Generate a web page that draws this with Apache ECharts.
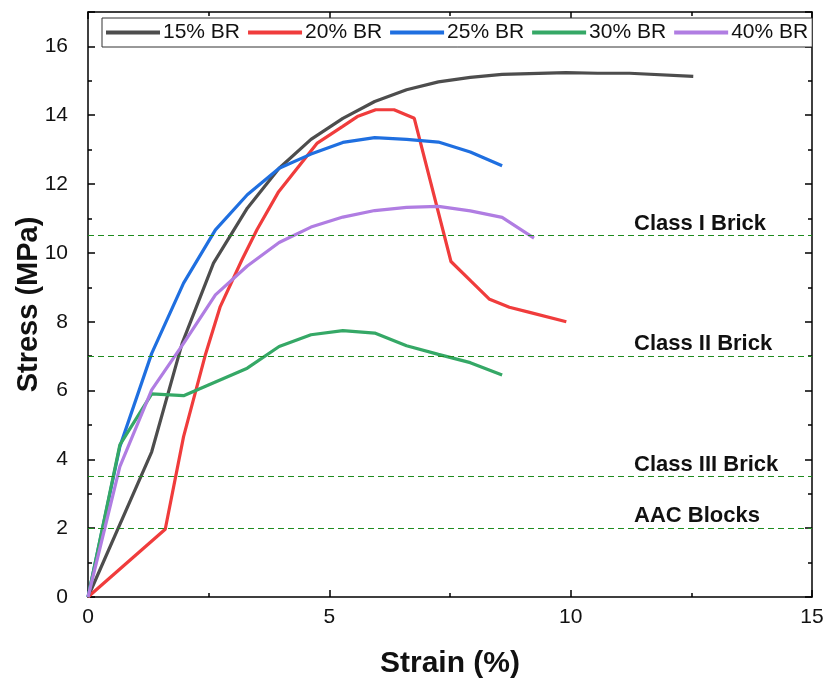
<!DOCTYPE html>
<html>
<head>
<meta charset="utf-8">
<script src="https://cdn.jsdelivr.net/npm/echarts@6/dist/echarts.min.js"></script>
<style>
  html, body { margin: 0; padding: 0; background: #fff; }
  #chart { width: 829px; height: 684px; }
</style>
</head>
<body>
<div id="chart"></div>
<script>
const seriesNames = ['15% BR', '20% BR', '25% BR', '30% BR', '40% BR']

const strain15 = [0, 1.32, 1.95, 2.6, 3.3, 3.96, 4.62, 5.28, 5.94, 6.6, 7.26, 7.92, 8.58, 9.9, 10.56, 11.22, 12.54]
const stress15 = [0, 4.22, 7.37, 9.7, 11.3, 12.46, 13.3, 13.91, 14.4, 14.74, 14.97, 15.1, 15.19, 15.24, 15.22, 15.22, 15.13]

const strain20 = [0, 1.6, 1.98, 2.43, 2.74, 3.19, 3.5, 3.95, 4.75, 5.27, 5.58, 5.96, 6.34, 6.76, 7.52, 7.94, 8.32, 8.73, 9.15, 9.91]
const stress20 = [0, 1.97, 4.66, 7.03, 8.44, 9.8, 10.67, 11.78, 13.19, 13.67, 13.96, 14.16, 14.16, 13.91, 9.75, 9.17, 8.65, 8.42, 8.27, 8.0]

const strain25 = [0, 0.66, 1.32, 1.98, 2.64, 3.3, 3.96, 4.62, 5.28, 5.94, 6.6, 7.26, 7.92, 8.58]
const stress25 = [0, 4.37, 7.08, 9.12, 10.67, 11.69, 12.46, 12.87, 13.21, 13.35, 13.3, 13.22, 12.93, 12.53]

const strain30 = [0, 0.66, 1.32, 1.98, 2.64, 3.3, 3.96, 4.62, 5.28, 5.94, 6.6, 7.26, 7.92, 8.58]
const stress30 = [0, 4.42, 5.9, 5.85, 6.25, 6.65, 7.28, 7.62, 7.74, 7.67, 7.3, 7.05, 6.81, 6.45]

const strain40 = [0, 0.66, 1.32, 1.98, 2.64, 3.3, 3.96, 4.62, 5.28, 5.94, 6.6, 7.26, 7.92, 8.58, 9.24]
const stress40 = [0, 3.79, 6.02, 7.37, 8.78, 9.62, 10.3, 10.75, 11.04, 11.23, 11.32, 11.35, 11.22, 11.03, 10.43]

const limitNames = ['Class I Brick', 'Class II Brick', 'Class III Brick', 'AAC Blocks']
const limitValues = [10.5, 7, 3.5, 2]

const colors = ['#4d4d4d', '#f03c3c', '#1f6fe0', '#35a866', '#b07de2']
const font = 'Liberation Sans, Arial, sans-serif'

function pairs(xs, ys) {
  let out = []
  for (let i = 0; i < xs.length; i++) {
    out.push([xs[i], ys[i]])
  }
  return out
}

// fresh tick/line settings for each axis, ticks pointing into the plot
function frame(extra) {
  return Object.assign({
    type: 'value',
    axisLine: { show: true, onZero: false, lineStyle: { color: '#000', width: 1.5 } },
    axisTick: { show: true, inside: true, length: 7, lineStyle: { color: '#000', width: 1.5 } },
    minorTick: { show: true, splitNumber: 2, length: 4, lineStyle: { color: '#000', width: 1.5 } },
    splitLine: { show: false },
  }, extra)
}

const allStrain = [strain15, strain20, strain25, strain30, strain40]
const allStress = [stress15, stress20, stress25, stress30, stress40]

let series = []
for (let i = 0; i < seriesNames.length; i++) {
  series.push({
    name: seriesNames[i],
    type: 'line',
    data: pairs(allStrain[i], allStress[i]),
    symbol: 'none',
    lineStyle: { width: 3.2, color: colors[i] },
    itemStyle: { color: colors[i] },
    z: 3,
  })
}

// dashed brick class limits
series.push({
  type: 'line',
  data: [],
  silent: true,
  markLine: {
    symbol: 'none',
    silent: true,
    lineStyle: { type: [6, 4], width: 1.2, color: '#1e8c1e' },
    label: {
      position: 'insideStartTop',
      distance: [546, 1],
      fontFamily: font,
      fontWeight: 'bold',
      fontSize: 22,
      color: '#111',
      formatter: (p) => p.name,
    },
    data: limitValues.map((v, i) => ({ name: limitNames[i], yAxis: v })),
  },
})

// empty series on the mirror axes so they get drawn
series.push({ type: 'line', data: [], xAxisIndex: 1, yAxisIndex: 1, silent: true })

const chart = echarts.init(document.getElementById('chart'))

chart.setOption({
  animation: false,
  grid: { left: 88, right: 17, top: 12, bottom: 87, outerBoundsMode: 'none' },
  legend: {
    data: seriesNames,
    left: 102,
    top: 18,
    itemWidth: 54,
    itemHeight: 4,
    itemGap: 8,
    icon: 'rect',
    borderColor: '#333',
    borderWidth: 1,
    padding: [4, 4],
    backgroundColor: '#fff',
    textStyle: { fontFamily: font, fontSize: 21, color: '#111', padding: [0, 0, 0, -2] },
  },
  xAxis: [
    frame({
      min: 0,
      max: 15,
      interval: 5,
      name: 'Strain (%)',
      nameLocation: 'middle',
      nameGap: 52,
      nameMoveOverlap: false,
      nameTextStyle: { fontFamily: font, fontWeight: 'bold', fontSize: 30, color: '#111' },
      axisLabel: { fontFamily: font, fontSize: 21, color: '#111', margin: 10 },
    }),
    frame({
      position: 'top',
      min: 0,
      max: 15,
      interval: 5,
      axisLabel: { show: false },
    }),
  ],
  yAxis: [
    frame({
      min: 0,
      max: 17,
      interval: 2,
      name: 'Stress (MPa)',
      nameLocation: 'middle',
      nameGap: 45,
      nameMoveOverlap: false,
      nameTextStyle: { fontFamily: font, fontWeight: 'bold', fontSize: 29, color: '#111' },
      axisLabel: { fontFamily: font, fontSize: 21, color: '#111', margin: 20, showMaxLabel: false },
    }),
    frame({
      position: 'right',
      min: 0,
      max: 17,
      interval: 2,
      axisLabel: { show: false },
    }),
  ],
  series: series,
})
</script>
</body>
</html>
